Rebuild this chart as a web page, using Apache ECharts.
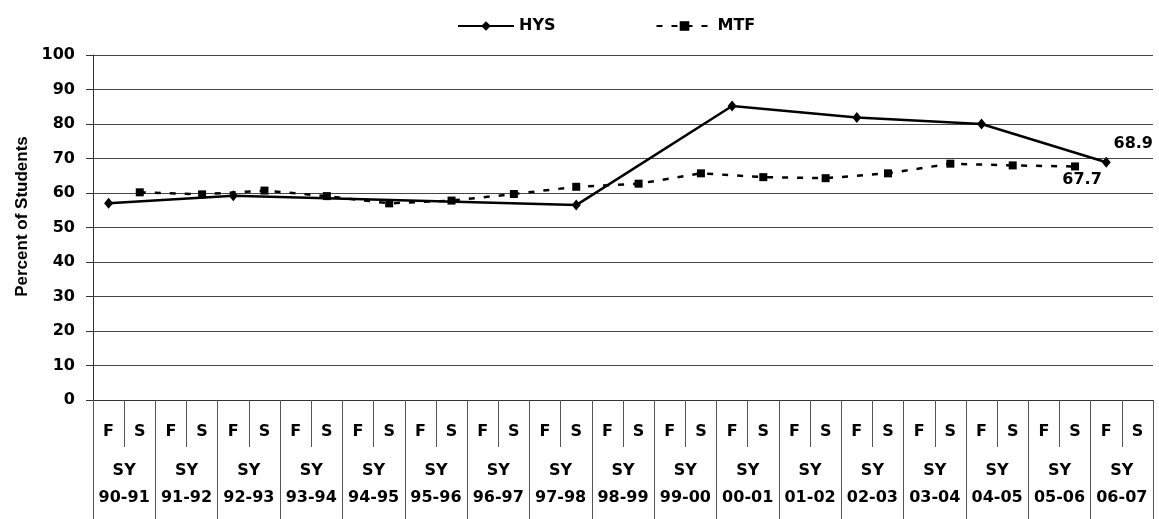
<!DOCTYPE html>
<html>
<head>
<meta charset="utf-8">
<script src="https://cdn.jsdelivr.net/npm/echarts@6/dist/echarts.min.js"></script>
<style>
html,body{margin:0;padding:0;background:#fff;}
#chart{width:1159px;height:519px;}
</style>
</head>
<body>
<div id="chart"></div>
<script>
// ---- data ----
const schoolYears = ['90-91','91-92','92-93','93-94','94-95','95-96','96-97','97-98','98-99','99-00','00-01','01-02','02-03','03-04','04-05','05-06','06-07'];
const terms = ['F','S'];
// one slot per term (F,S) of each school year
const hysValues = [57.0,null,null,null,59.2,null,null,null,null,null,null,null,null,null,null,56.5,null,null,null,null,85.2,null,null,null,81.9,null,null,null,80.0,null,null,null,68.9,null];
const mtfValues = [null,60.2,null,59.6,null,60.7,null,59.1,null,57.0,null,57.8,null,59.7,null,61.8,null,62.7,null,65.7,null,64.6,null,64.3,null,65.7,null,68.5,null,68.0,null,67.7,null,null];
const yTicks = [0,10,20,30,40,50,60,70,80,90,100];

const termCats = [];
schoolYears.forEach(() => terms.forEach(t => termCats.push(t)));
const yearCats = schoolYears.map(y => 'SY\n' + y);

function lastIndex(arr){ for(let i=arr.length-1;i>=0;i--){ if(arr[i]!=null) return i; } return -1; }
const FONT = 'DejaVu Sans';
const lblStyle = {fontFamily: FONT, fontWeight: 'bold', fontSize: 16, color: '#000'};

function withLabel(arr, labelCfg){
  const li = lastIndex(arr);
  return arr.map((v,i) => i===li ? {value:v, label:Object.assign({show:true, formatter: p => p.value.toFixed(1)}, lblStyle, labelCfg)} : v);
}

const chart = echarts.init(document.getElementById('chart'), null, {renderer:'canvas'});
chart.setOption({
  animation: false,
  backgroundColor: '#fff',
  legend: {
    left: 452, top: 13,
    itemWidth: 56, itemHeight: 12, itemGap: 100,
    textStyle: {fontFamily: FONT, fontWeight: 'bold', fontSize: 16, color: '#000'},
    data: ['HYS','MTF']
  },
  grid: {left: 93, right: 6, top: 55, bottom: 119, containLabel: false},
  xAxis: [
    {
      type: 'category', data: termCats, position: 'bottom', boundaryGap: true,
      axisLine: {show: true, lineStyle: {color: '#333', width: 1}},
      axisTick: {show: true, alignWithLabel: false, interval: 0, length: 47, lineStyle: {color: '#555', width: 1}},
      axisLabel: {interval: 0, margin: 23, lineHeight: 18, fontFamily: FONT, fontWeight: 'bold', fontSize: 16, color: '#000'},
      splitLine: {show: false}
    },
    {
      type: 'category', data: yearCats, position: 'bottom', offset: 0, boundaryGap: true,
      axisLine: {show: false},
      axisTick: {show: true, interval: 0, length: 119, lineStyle: {color: '#555', width: 1}},
      axisLabel: {interval: 0, margin: 57, lineHeight: 27, fontFamily: FONT, fontWeight: 'bold', fontSize: 16, color: '#000'},
      splitLine: {show: false}
    }
  ],
  yAxis: {
    type: 'value', min: yTicks[0], max: yTicks[yTicks.length-1], interval: 10,
    name: 'Percent of Students', nameLocation: 'middle', nameGap: 62, nameRotate: 90,
    nameTextStyle: {fontFamily: 'Liberation Sans', fontWeight: 'bold', fontSize: 17, color: '#000', padding: [0,0,0,22]},
    axisLine: {show: true, lineStyle: {color: '#333', width: 1}},
    axisTick: {show: true, inside: false, length: 7, lineStyle: {color: '#333'}},
    axisLabel: {margin: 18, fontFamily: FONT, fontWeight: 'bold', fontSize: 16, color: '#000'},
    splitLine: {show: true, lineStyle: {color: '#444', width: 1}}
  },
  series: [
    {
      name: 'HYS', type: 'line', xAxisIndex: 0, connectNulls: true,
      symbol: 'diamond', symbolSize: [9, 11], showAllSymbol: true,
      lineStyle: {color: '#000', width: 2.5, type: 'solid'},
      itemStyle: {color: '#000'},
      data: withLabel(hysValues, {position: 'top', offset: [27, 0]})
    },
    {
      name: 'MTF', type: 'line', xAxisIndex: 0, connectNulls: true,
      symbol: 'rect', symbolSize: 8, showAllSymbol: true,
      lineStyle: {color: '#000', width: 2.5, type: [6, 9]},
      itemStyle: {color: '#000'},
      data: withLabel(mtfValues, {position: 'bottom', offset: [7, -4]})
    }
  ]
});
</script>
</body>
</html>
